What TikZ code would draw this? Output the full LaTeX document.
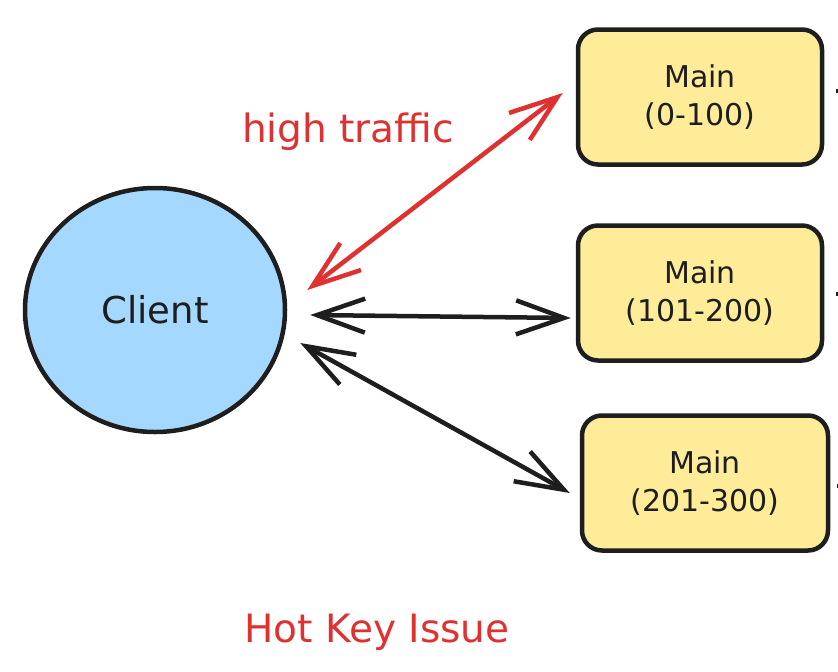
\documentclass[tikz,border=0pt]{standalone}
\usepackage{fontspec}
\setmainfont{DejaVu Sans}
\usetikzlibrary{arrows.meta,shapes.geometric,calc}
\definecolor{ink}{HTML}{1E1E1E}
\definecolor{hot}{HTML}{E03131}
\definecolor{cblue}{HTML}{A5D8FF}
\definecolor{cyel}{HTML}{FFEC99}
\tikzset{
  mainbox/.style={draw=ink, fill=cyel, line width=4.5pt, rounded corners=20pt,
    minimum width=244pt, minimum height=135pt, align=center, text=ink,
    font=\fontsize{30}{38}\selectfont, inner sep=0pt},
  clientnode/.style={ellipse, draw=ink, fill=cblue, line width=4.5pt,
    minimum width=260pt, minimum height=244pt, inner sep=0pt, text=ink,
    font=\fontsize{37}{40}\selectfont},
  link/.style={line width=4.5pt, line cap=round,
    {Straight Barb[length=48pt,width=34pt,line width=4.5pt]}-{Straight Barb[length=48pt,width=34pt,line width=4.5pt]}},
  stub/.style={line width=3.5pt, draw=ink},
  label/.style={font=\fontsize{39}{44}\selectfont, text=hot, inner sep=0pt}
}
\begin{document}
\begin{tikzpicture}[x=1pt,y=-1pt]
\useasboundingbox (0,0) rectangle (838,672);
\node[clientnode] (client) at (155,310) {Client};
\node[mainbox] (m1) at (700,97) {Main\\(0-100)};
\node[mainbox] (m2) at (700,293) {Main\\(101-200)};
\node[mainbox, minimum width=246pt] (m3) at (705,483) {Main\\(201-300)};
\node[label] (ht) at (348,132) {high traffic};
\node[label] (hk) at (377,632) {Hot Key Issue};
\draw[link, draw=hot] ([shift={(20,-20)}]client.east) -- ([shift={(-13,-4)}]m1.west);
\draw[link, draw=ink] ([shift={(23,5)}]client.east) -- ([shift={(-5,25)}]m2.west);
\draw[link, draw=ink] ([shift={(13,33)}]client.east) -- ([shift={(-10,10)}]m3.west);
\coordinate (s1) at (845,91);
\coordinate (s2) at (845,294);
\coordinate (s3) at (845,486);
\draw[stub] ([shift={(12,-6)}]m1.east) -- (s1);
\draw[stub] ([shift={(12,1)}]m2.east) -- (s2);
\draw[stub] ([shift={(7,3)}]m3.east) -- (s3);
\end{tikzpicture}
\end{document}
